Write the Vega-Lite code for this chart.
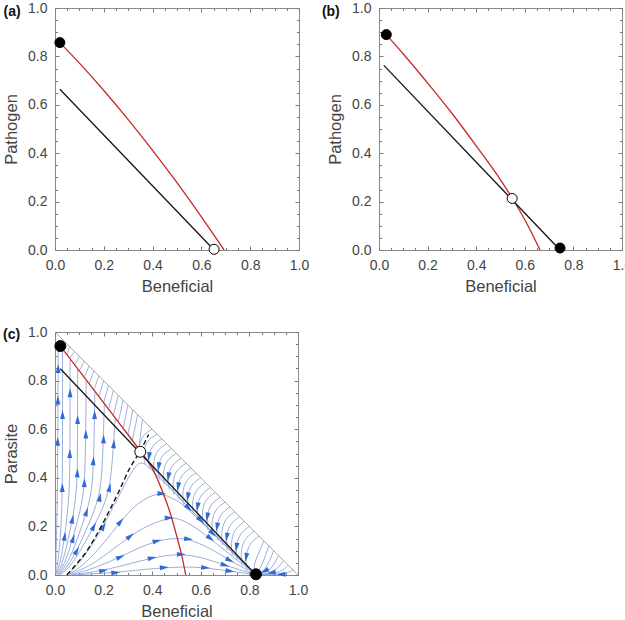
{
  "$schema": "https://vega.github.io/schema/vega-lite/v6.json",
  "padding": {"left": 2, "top": 0, "right": 0, "bottom": 0},
  "background": "white",
  "config": {
    "font": "Liberation Sans",
    "view": {"stroke": "#8a8a8a", "strokeWidth": 1},
    "axis": {"grid": false, "domain": false, "labelFont": "Liberation Sans", "labelFontSize": 14, "labelColor": "#444444", "titleFont": "Liberation Sans", "titleFontSize": 16.5, "titleFontWeight": "normal", "titleColor": "#444444", "tickColor": "#7a7a7a", "tickWidth": 1, "labelFlush": false, "labelOverlap": false}
  },
  "datasets": {
    "streams": [
      {"g":"L1","i":0,"x":0.002,"y":0.005},{"g":"L1","i":1,"x":0.005,"y":0.1},{"g":"L1","i":2,"x":0.01,"y":0.32},{"g":"L1","i":3,"x":0.012,"y":0.6},{"g":"L1","i":4,"x":0.013,"y":0.93},
      {"g":"L2","i":0,"x":0.004,"y":0.004},{"g":"L2","i":1,"x":0.009,"y":0.03},{"g":"L2","i":2,"x":0.017,"y":0.1},{"g":"L2","i":3,"x":0.025,"y":0.2},{"g":"L2","i":4,"x":0.03,"y":0.32},{"g":"L2","i":5,"x":0.031,"y":0.6},{"g":"L2","i":6,"x":0.031,"y":0.92},
      {"g":"L3","i":0,"x":0.006,"y":0.003},{"g":"L3","i":1,"x":0.016,"y":0.03},{"g":"L3","i":2,"x":0.031,"y":0.1},{"g":"L3","i":3,"x":0.045,"y":0.2},{"g":"L3","i":4,"x":0.058,"y":0.32},{"g":"L3","i":5,"x":0.061,"y":0.45},{"g":"L3","i":6,"x":0.062,"y":0.6},{"g":"L3","i":7,"x":0.062,"y":0.885},
      {"g":"L4","i":0,"x":0.009,"y":0.003},{"g":"L4","i":1,"x":0.024,"y":0.03},{"g":"L4","i":2,"x":0.044,"y":0.1},{"g":"L4","i":3,"x":0.066,"y":0.2},{"g":"L4","i":4,"x":0.088,"y":0.32},{"g":"L4","i":5,"x":0.092,"y":0.45},{"g":"L4","i":6,"x":0.093,"y":0.6},{"g":"L4","i":7,"x":0.093,"y":0.845},
      {"g":"L5","i":0,"x":0.012,"y":0.002},{"g":"L5","i":1,"x":0.032,"y":0.03},{"g":"L5","i":2,"x":0.058,"y":0.1},{"g":"L5","i":3,"x":0.087,"y":0.2},{"g":"L5","i":4,"x":0.118,"y":0.32},{"g":"L5","i":5,"x":0.124,"y":0.45},{"g":"L5","i":6,"x":0.127,"y":0.6},{"g":"L5","i":7,"x":0.128,"y":0.8},
      {"g":"L6","i":0,"x":0.015,"y":0.002},{"g":"L6","i":1,"x":0.04,"y":0.03},{"g":"L6","i":2,"x":0.075,"y":0.1},{"g":"L6","i":3,"x":0.11,"y":0.2},{"g":"L6","i":4,"x":0.15,"y":0.32},{"g":"L6","i":5,"x":0.158,"y":0.45},{"g":"L6","i":6,"x":0.162,"y":0.6},{"g":"L6","i":7,"x":0.164,"y":0.752},
      {"g":"L7","i":0,"x":0.018,"y":0.001},{"g":"L7","i":1,"x":0.05,"y":0.03},{"g":"L7","i":2,"x":0.09,"y":0.1},{"g":"L7","i":3,"x":0.135,"y":0.2},{"g":"L7","i":4,"x":0.185,"y":0.32},{"g":"L7","i":5,"x":0.195,"y":0.45},{"g":"L7","i":6,"x":0.2,"y":0.6},{"g":"L7","i":7,"x":0.203,"y":0.703},
      {"g":"L8","i":0,"x":0.022,"y":0.001},{"g":"L8","i":1,"x":0.06,"y":0.03},{"g":"L8","i":2,"x":0.105,"y":0.1},{"g":"L8","i":3,"x":0.16,"y":0.2},{"g":"L8","i":4,"x":0.22,"y":0.32},{"g":"L8","i":5,"x":0.235,"y":0.45},{"g":"L8","i":6,"x":0.245,"y":0.6},{"g":"L8","i":7,"x":0.248,"y":0.643},
      {"g":"R0","i":0,"x":0.36,"y":0.49},{"g":"R0","i":1,"x":0.45,"y":0.388},{"g":"R0","i":2,"x":0.55,"y":0.278},{"g":"R0","i":3,"x":0.65,"y":0.172},{"g":"R0","i":4,"x":0.75,"y":0.07},{"g":"R0","i":5,"x":0.825,"y":0.006},
      {"g":"R1","i":0,"x":0.055,"y":0.003},{"g":"R1","i":1,"x":0.11,"y":0.06},{"g":"R1","i":2,"x":0.17,"y":0.15},{"g":"R1","i":3,"x":0.23,"y":0.26},{"g":"R1","i":4,"x":0.29,"y":0.38},{"g":"R1","i":5,"x":0.33,"y":0.45},{"g":"R1","i":6,"x":0.36,"y":0.47},{"g":"R1","i":7,"x":0.4,"y":0.43},{"g":"R1","i":8,"x":0.5,"y":0.33},{"g":"R1","i":9,"x":0.6,"y":0.225},{"g":"R1","i":10,"x":0.7,"y":0.125},{"g":"R1","i":11,"x":0.8,"y":0.025},{"g":"R1","i":12,"x":0.825,"y":0.004},
      {"g":"R2","i":0,"x":0.058,"y":0.002},{"g":"R2","i":1,"x":0.13,"y":0.05},{"g":"R2","i":2,"x":0.2,"y":0.13},{"g":"R2","i":3,"x":0.27,"y":0.22},{"g":"R2","i":4,"x":0.33,"y":0.29},{"g":"R2","i":5,"x":0.4,"y":0.33},{"g":"R2","i":6,"x":0.44,"y":0.335},{"g":"R2","i":7,"x":0.5,"y":0.31},{"g":"R2","i":8,"x":0.55,"y":0.27},{"g":"R2","i":9,"x":0.65,"y":0.17},{"g":"R2","i":10,"x":0.75,"y":0.075},{"g":"R2","i":11,"x":0.82,"y":0.01},
      {"g":"R3","i":0,"x":0.062,"y":0.002},{"g":"R3","i":1,"x":0.15,"y":0.04},{"g":"R3","i":2,"x":0.23,"y":0.1},{"g":"R3","i":3,"x":0.31,"y":0.16},{"g":"R3","i":4,"x":0.38,"y":0.205},{"g":"R3","i":5,"x":0.47,"y":0.235},{"g":"R3","i":6,"x":0.5,"y":0.235},{"g":"R3","i":7,"x":0.56,"y":0.21},{"g":"R3","i":8,"x":0.64,"y":0.15},{"g":"R3","i":9,"x":0.73,"y":0.075},{"g":"R3","i":10,"x":0.82,"y":0.008},
      {"g":"R4","i":0,"x":0.068,"y":0.001},{"g":"R4","i":1,"x":0.17,"y":0.03},{"g":"R4","i":2,"x":0.27,"y":0.075},{"g":"R4","i":3,"x":0.36,"y":0.12},{"g":"R4","i":4,"x":0.44,"y":0.145},{"g":"R4","i":5,"x":0.5,"y":0.152},{"g":"R4","i":6,"x":0.55,"y":0.148},{"g":"R4","i":7,"x":0.63,"y":0.115},{"g":"R4","i":8,"x":0.72,"y":0.06},{"g":"R4","i":9,"x":0.82,"y":0.005},
      {"g":"R5","i":0,"x":0.075,"y":0.001},{"g":"R5","i":1,"x":0.2,"y":0.018},{"g":"R5","i":2,"x":0.3,"y":0.045},{"g":"R5","i":3,"x":0.4,"y":0.07},{"g":"R5","i":4,"x":0.47,"y":0.082},{"g":"R5","i":5,"x":0.52,"y":0.085},{"g":"R5","i":6,"x":0.6,"y":0.075},{"g":"R5","i":7,"x":0.7,"y":0.04},{"g":"R5","i":8,"x":0.82,"y":0.003},
      {"g":"R6","i":0,"x":0.09,"y":0.001},{"g":"R6","i":1,"x":0.25,"y":0.01},{"g":"R6","i":2,"x":0.38,"y":0.025},{"g":"R6","i":3,"x":0.53,"y":0.035},{"g":"R6","i":4,"x":0.62,"y":0.03},{"g":"R6","i":5,"x":0.72,"y":0.016},{"g":"R6","i":6,"x":0.82,"y":0.002},
      {"g":"U0","i":0,"x":0.06,"y":0.94},{"g":"U0","i":1,"x":0.055,"y":0.924},{"g":"U0","i":2,"x":0.05,"y":0.907},
      {"g":"U08","i":0,"x":0.08,"y":0.92},{"g":"U08","i":1,"x":0.071,"y":0.906},{"g":"U08","i":2,"x":0.06,"y":0.892},
      {"g":"U1","i":0,"x":0.1,"y":0.9},{"g":"U1","i":1,"x":0.093,"y":0.884},{"g":"U1","i":2,"x":0.082,"y":0.866},
      {"g":"U12","i":0,"x":0.12,"y":0.88},{"g":"U12","i":1,"x":0.111,"y":0.86},{"g":"U12","i":2,"x":0.1,"y":0.84},
      {"g":"U2","i":0,"x":0.14,"y":0.86},{"g":"U2","i":1,"x":0.131,"y":0.838},{"g":"U2","i":2,"x":0.12,"y":0.814},
      {"g":"U16","i":0,"x":0.16,"y":0.84},{"g":"U16","i":1,"x":0.151,"y":0.813},{"g":"U16","i":2,"x":0.14,"y":0.787},
      {"g":"U3","i":0,"x":0.18,"y":0.82},{"g":"U3","i":1,"x":0.171,"y":0.791},{"g":"U3","i":2,"x":0.16,"y":0.761},
      {"g":"U20","i":0,"x":0.2,"y":0.8},{"g":"U20","i":1,"x":0.191,"y":0.767},{"g":"U20","i":2,"x":0.18,"y":0.735},
      {"g":"U4","i":0,"x":0.22,"y":0.78},{"g":"U4","i":1,"x":0.211,"y":0.745},{"g":"U4","i":2,"x":0.2,"y":0.709},
      {"g":"U24","i":0,"x":0.24,"y":0.76},{"g":"U24","i":1,"x":0.231,"y":0.721},{"g":"U24","i":2,"x":0.22,"y":0.683},
      {"g":"U5","i":0,"x":0.26,"y":0.74},{"g":"U5","i":1,"x":0.251,"y":0.699},{"g":"U5","i":2,"x":0.24,"y":0.656},
      {"g":"U28","i":0,"x":0.28,"y":0.72},{"g":"U28","i":1,"x":0.271,"y":0.675},{"g":"U28","i":2,"x":0.26,"y":0.63},
      {"g":"U6","i":0,"x":0.3,"y":0.7},{"g":"U6","i":1,"x":0.291,"y":0.653},{"g":"U6","i":2,"x":0.28,"y":0.604},
      {"g":"U32","i":0,"x":0.32,"y":0.68},{"g":"U32","i":1,"x":0.311,"y":0.629},{"g":"U32","i":2,"x":0.3,"y":0.578},
      {"g":"U7","i":0,"x":0.34,"y":0.66},{"g":"U7","i":1,"x":0.33,"y":0.607},{"g":"U7","i":2,"x":0.318,"y":0.555},
      {"g":"U36","i":0,"x":0.36,"y":0.64},{"g":"U36","i":1,"x":0.352,"y":0.58},{"g":"U36","i":2,"x":0.345,"y":0.52},
      {"g":"A40","i":0,"x":0.4,"y":0.6},{"g":"A40","i":1,"x":0.368,"y":0.5816},{"g":"A40","i":2,"x":0.348,"y":0.5493},{"g":"A40","i":3,"x":0.345,"y":0.5078},
      {"g":"A42","i":0,"x":0.42,"y":0.58},{"g":"A42","i":1,"x":0.388,"y":0.5614},{"g":"A42","i":2,"x":0.368,"y":0.5288},{"g":"A42","i":3,"x":0.365,"y":0.4869},{"g":"A42","i":4,"x":0.37,"y":0.4569},
      {"g":"A44","i":0,"x":0.44,"y":0.56},{"g":"A44","i":1,"x":0.408,"y":0.5412},{"g":"A44","i":2,"x":0.388,"y":0.5082},{"g":"A44","i":3,"x":0.385,"y":0.4659},{"g":"A44","i":4,"x":0.39,"y":0.4359},
      {"g":"A46","i":0,"x":0.46,"y":0.54},{"g":"A46","i":1,"x":0.428,"y":0.521},{"g":"A46","i":2,"x":0.408,"y":0.4878},{"g":"A46","i":3,"x":0.405,"y":0.445},{"g":"A46","i":4,"x":0.41,"y":0.415},
      {"g":"A48","i":0,"x":0.48,"y":0.52},{"g":"A48","i":1,"x":0.448,"y":0.5008},{"g":"A48","i":2,"x":0.428,"y":0.4672},{"g":"A48","i":3,"x":0.425,"y":0.424},{"g":"A48","i":4,"x":0.43,"y":0.394},
      {"g":"A50","i":0,"x":0.5,"y":0.5},{"g":"A50","i":1,"x":0.468,"y":0.4806},{"g":"A50","i":2,"x":0.448,"y":0.4467},{"g":"A50","i":3,"x":0.445,"y":0.4031},{"g":"A50","i":4,"x":0.45,"y":0.3731},
      {"g":"A52","i":0,"x":0.52,"y":0.48},{"g":"A52","i":1,"x":0.488,"y":0.4604},{"g":"A52","i":2,"x":0.468,"y":0.4262},{"g":"A52","i":3,"x":0.465,"y":0.3822},{"g":"A52","i":4,"x":0.47,"y":0.3522},
      {"g":"A54","i":0,"x":0.54,"y":0.46},{"g":"A54","i":1,"x":0.508,"y":0.4402},{"g":"A54","i":2,"x":0.488,"y":0.4057},{"g":"A54","i":3,"x":0.485,"y":0.3612},{"g":"A54","i":4,"x":0.49,"y":0.3312},
      {"g":"A56","i":0,"x":0.56,"y":0.44},{"g":"A56","i":1,"x":0.528,"y":0.4201},{"g":"A56","i":2,"x":0.508,"y":0.3852},{"g":"A56","i":3,"x":0.505,"y":0.3403},{"g":"A56","i":4,"x":0.51,"y":0.3103},
      {"g":"A58","i":0,"x":0.58,"y":0.42},{"g":"A58","i":1,"x":0.548,"y":0.3999},{"g":"A58","i":2,"x":0.528,"y":0.3646},{"g":"A58","i":3,"x":0.525,"y":0.3193},{"g":"A58","i":4,"x":0.53,"y":0.2893},
      {"g":"A60","i":0,"x":0.6,"y":0.4},{"g":"A60","i":1,"x":0.568,"y":0.3797},{"g":"A60","i":2,"x":0.548,"y":0.3441},{"g":"A60","i":3,"x":0.545,"y":0.2984},{"g":"A60","i":4,"x":0.55,"y":0.2684},
      {"g":"A62","i":0,"x":0.62,"y":0.38},{"g":"A62","i":1,"x":0.588,"y":0.3595},{"g":"A62","i":2,"x":0.568,"y":0.3236},{"g":"A62","i":3,"x":0.565,"y":0.2775},{"g":"A62","i":4,"x":0.57,"y":0.2475},
      {"g":"A64","i":0,"x":0.64,"y":0.36},{"g":"A64","i":1,"x":0.608,"y":0.3393},{"g":"A64","i":2,"x":0.588,"y":0.3031},{"g":"A64","i":3,"x":0.585,"y":0.2565},{"g":"A64","i":4,"x":0.59,"y":0.2265},
      {"g":"A66","i":0,"x":0.66,"y":0.34},{"g":"A66","i":1,"x":0.628,"y":0.3191},{"g":"A66","i":2,"x":0.608,"y":0.2826},{"g":"A66","i":3,"x":0.605,"y":0.2356},{"g":"A66","i":4,"x":0.61,"y":0.2056},
      {"g":"A68","i":0,"x":0.68,"y":0.32},{"g":"A68","i":1,"x":0.648,"y":0.2989},{"g":"A68","i":2,"x":0.628,"y":0.262},{"g":"A68","i":3,"x":0.625,"y":0.2146},{"g":"A68","i":4,"x":0.63,"y":0.1846},
      {"g":"A70","i":0,"x":0.7,"y":0.3},{"g":"A70","i":1,"x":0.668,"y":0.2787},{"g":"A70","i":2,"x":0.648,"y":0.2415},{"g":"A70","i":3,"x":0.645,"y":0.1937},{"g":"A70","i":4,"x":0.65,"y":0.1637},
      {"g":"A72","i":0,"x":0.72,"y":0.28},{"g":"A72","i":1,"x":0.688,"y":0.2586},{"g":"A72","i":2,"x":0.668,"y":0.221},{"g":"A72","i":3,"x":0.665,"y":0.1728},{"g":"A72","i":4,"x":0.67,"y":0.1428},
      {"g":"A74","i":0,"x":0.74,"y":0.26},{"g":"A74","i":1,"x":0.708,"y":0.2384},{"g":"A74","i":2,"x":0.688,"y":0.2005},{"g":"A74","i":3,"x":0.685,"y":0.1518},{"g":"A74","i":4,"x":0.69,"y":0.1218},
      {"g":"A76","i":0,"x":0.76,"y":0.24},{"g":"A76","i":1,"x":0.728,"y":0.2182},{"g":"A76","i":2,"x":0.708,"y":0.18},{"g":"A76","i":3,"x":0.705,"y":0.1309},{"g":"A76","i":4,"x":0.71,"y":0.1009},
      {"g":"A78","i":0,"x":0.78,"y":0.22},{"g":"A78","i":1,"x":0.748,"y":0.198},{"g":"A78","i":2,"x":0.728,"y":0.1594},{"g":"A78","i":3,"x":0.725,"y":0.1099},{"g":"A78","i":4,"x":0.73,"y":0.0799},
      {"g":"A80","i":0,"x":0.8,"y":0.2},{"g":"A80","i":1,"x":0.768,"y":0.1778},{"g":"A80","i":2,"x":0.748,"y":0.139},{"g":"A80","i":3,"x":0.745,"y":0.089},{"g":"A80","i":4,"x":0.75,"y":0.059},
      {"g":"A82","i":0,"x":0.82,"y":0.18},{"g":"A82","i":1,"x":0.788,"y":0.1576},{"g":"A82","i":2,"x":0.768,"y":0.1185},{"g":"A82","i":3,"x":0.765,"y":0.0681},{"g":"A82","i":4,"x":0.77,"y":0.0381},
      {"g":"A84","i":0,"x":0.84,"y":0.16},{"g":"A84","i":1,"x":0.808,"y":0.1374},{"g":"A84","i":2,"x":0.788,"y":0.0979},{"g":"A84","i":3,"x":0.785,"y":0.0471},{"g":"A84","i":4,"x":0.79,"y":0.0171},
      {"g":"A86","i":0,"x":0.86,"y":0.14},{"g":"A86","i":1,"x":0.835,"y":0.085},{"g":"A86","i":2,"x":0.818,"y":0.04},{"g":"A86","i":3,"x":0.82,"y":0.01},
      {"g":"A88","i":0,"x":0.88,"y":0.12},{"g":"A88","i":1,"x":0.86,"y":0.06},{"g":"A88","i":2,"x":0.84,"y":0.02},{"g":"A88","i":3,"x":0.832,"y":0.004},
      {"g":"A90","i":0,"x":0.9,"y":0.1},{"g":"A90","i":1,"x":0.88,"y":0.05},{"g":"A90","i":2,"x":0.858,"y":0.015},{"g":"A90","i":3,"x":0.835,"y":0.003},
      {"g":"A92","i":0,"x":0.92,"y":0.08},{"g":"A92","i":1,"x":0.9,"y":0.04},{"g":"A92","i":2,"x":0.875,"y":0.012},{"g":"A92","i":3,"x":0.84,"y":0.002},
      {"g":"A94","i":0,"x":0.94,"y":0.06},{"g":"A94","i":1,"x":0.92,"y":0.03},{"g":"A94","i":2,"x":0.89,"y":0.009},{"g":"A94","i":3,"x":0.845,"y":0.002},
      {"g":"A96","i":0,"x":0.96,"y":0.04},{"g":"A96","i":1,"x":0.94,"y":0.02},{"g":"A96","i":2,"x":0.905,"y":0.006},{"g":"A96","i":3,"x":0.85,"y":0.001},
      {"g":"A98","i":0,"x":0.98,"y":0.02},{"g":"A98","i":1,"x":0.96,"y":0.01},{"g":"A98","i":2,"x":0.92,"y":0.003},{"g":"A98","i":3,"x":0.86,"y":0.001},
      {"g":"H","i":0,"x":0.0,"y":1.0},{"g":"H","i":1,"x":1.0,"y":0.0}
    ],
    "arrows": [
      {"x":0.011,"y":0.55,"a":0},{"x":0.012,"y":0.72,"a":0},{"x":0.013,"y":0.85,"a":0},
      {"x":0.03,"y":0.36,"a":0},{"x":0.031,"y":0.66,"a":0},
      {"x":0.04,"y":0.16,"a":9},{"x":0.061,"y":0.5,"a":1},{"x":0.062,"y":0.75,"a":0},
      {"x":0.072,"y":0.23,"a":13},{"x":0.092,"y":0.42,"a":2},{"x":0.093,"y":0.64,"a":0},
      {"x":0.075,"y":0.15,"a":18},{"x":0.121,"y":0.38,"a":3},{"x":0.127,"y":0.58,"a":0},
      {"x":0.13,"y":0.26,"a":18},{"x":0.158,"y":0.47,"a":4},{"x":0.163,"y":0.66,"a":0},
      {"x":0.09,"y":0.1,"a":30},{"x":0.185,"y":0.32,"a":12},{"x":0.2,"y":0.56,"a":2},
      {"x":0.16,"y":0.2,"a":28},{"x":0.225,"y":0.36,"a":14},{"x":0.242,"y":0.54,"a":4},
      {"x":0.2,"y":0.2,"a":29},{"x":0.55,"y":0.275,"a":136},
      {"x":0.27,"y":0.22,"a":39},{"x":0.44,"y":0.335,"a":92},{"x":0.65,"y":0.17,"a":134},
      {"x":0.31,"y":0.16,"a":51},{"x":0.47,"y":0.235,"a":88},{"x":0.64,"y":0.15,"a":128},
      {"x":0.27,"y":0.075,"a":65},{"x":0.42,"y":0.14,"a":74},{"x":0.55,"y":0.148,"a":95},{"x":0.72,"y":0.06,"a":118},
      {"x":0.2,"y":0.018,"a":80},{"x":0.4,"y":0.07,"a":78},{"x":0.52,"y":0.085,"a":90},{"x":0.7,"y":0.04,"a":107},
      {"x":0.25,"y":0.01,"a":85},{"x":0.45,"y":0.031,"a":86},{"x":0.62,"y":0.03,"a":94},{"x":0.72,"y":0.016,"a":98},
      {"x":0.6,"y":0.225,"a":134},
      {"x":0.93,"y":0.003,"a":270},
      {"x":0.3865,"y":0.487,"a":190},{"x":0.4265,"y":0.4456,"a":190},{"x":0.4665,"y":0.4042,"a":190},{"x":0.5065,"y":0.3628,"a":190},{"x":0.5465,"y":0.3213,"a":190},{"x":0.5865,"y":0.2798,"a":190},{"x":0.6265,"y":0.2383,"a":190},{"x":0.6665,"y":0.1969,"a":190},{"x":0.7065,"y":0.1555,"a":190},{"x":0.7465,"y":0.114,"a":190},{"x":0.7865,"y":0.0725,"a":190},
      {"x":0.862,"y":0.016,"a":245},{"x":0.89,"y":0.009,"a":260}
    ]
  },
  "concat": [
    {
      "width": 244, "height": 242,
      "layer": [
        {
          "data": {"values": [
            {"s":"red","i":0,"x":0.02,"y":0.857},{"s":"red","i":1,"x":0.1,"y":0.772},{"s":"red","i":2,"x":0.2,"y":0.659},{"s":"red","i":3,"x":0.3,"y":0.539},{"s":"red","i":4,"x":0.4,"y":0.412},{"s":"red","i":5,"x":0.5,"y":0.278},{"s":"red","i":6,"x":0.6,"y":0.137},{"s":"red","i":7,"x":0.693,"y":0.0},
            {"s":"black","i":0,"x":0.02,"y":0.664},{"s":"black","i":1,"x":0.652,"y":0.0}
          ]},
          "mark": {"type": "line", "strokeWidth": 1.3, "interpolate": "monotone"},
          "encoding": {
            "x": {"field": "x", "type": "quantitative", "scale": {"domain": [0, 1], "nice": false, "zero": false},
                  "axis": {"orient": "bottom", "title": "Beneficial", "values": [0,0.2,0.4,0.6,0.8,1], "format": ".1f", "tickSize": 4, "offset": -4, "labelPadding": 8, "titlePadding": 6}},
            "y": {"field": "y", "type": "quantitative", "scale": {"domain": [0, 1], "nice": false, "zero": false},
                  "axis": {"orient": "left", "title": "Pathogen", "values": [0,0.2,0.4,0.6,0.8,1], "format": ".1f", "tickSize": 4, "offset": -4, "labelPadding": 8, "titlePadding": 8}},
            "color": {"field": "s", "type": "nominal", "scale": {"domain": ["red", "black"], "range": ["#c62828", "#151515"]}, "legend": null},
            "order": {"field": "i", "type": "quantitative"}
          }
        },
        {
          "data": {"values": [{"x":0.5,"y":0.5}]},
          "mark": {"type": "point", "opacity": 0},
          "encoding": {
            "x": {"field": "x", "type": "quantitative", "axis": {"orient": "bottom", "title": null, "labels": false, "values": [0.05,0.1,0.15,0.25,0.3,0.35,0.45,0.5,0.55,0.65,0.7,0.75,0.85,0.9,0.95], "tickSize": 2.5, "offset": -2.5}},
            "y": {"field": "y", "type": "quantitative", "axis": {"orient": "left", "title": null, "labels": false, "values": [0.05,0.1,0.15,0.25,0.3,0.35,0.45,0.5,0.55,0.65,0.7,0.75,0.85,0.9,0.95], "tickSize": 2.5, "offset": -2.5}}
          }
        },
        {
          "data": {"values": [{"x":0.5,"y":0.5}]},
          "mark": {"type": "point", "opacity": 0},
          "encoding": {
            "x": {"field": "x", "type": "quantitative", "axis": {"orient": "top", "title": null, "labels": false, "values": [0.05,0.1,0.15,0.25,0.3,0.35,0.45,0.5,0.55,0.65,0.7,0.75,0.85,0.9,0.95], "tickSize": 2.5, "offset": -2.5}},
            "y": {"field": "y", "type": "quantitative", "axis": {"orient": "right", "title": null, "labels": false, "values": [0.05,0.1,0.15,0.25,0.3,0.35,0.45,0.5,0.55,0.65,0.7,0.75,0.85,0.9,0.95], "tickSize": 2.5, "offset": -2.5}}
          }
        },
        {
          "data": {"values": [{"f":"filled","x":0.02,"y":0.857},{"f":"open","x":0.652,"y":0.003}]},
          "mark": {"type": "point", "shape": "circle", "filled": true, "stroke": "#000000", "strokeWidth": 1, "size": 100, "opacity": 1},
          "encoding": {
            "x": {"field": "x", "type": "quantitative", "axis": {"orient": "top", "title": null, "labels": false, "values": [0,0.2,0.4,0.6,0.8,1], "tickSize": 4, "offset": -4}},
            "y": {"field": "y", "type": "quantitative", "axis": {"orient": "right", "title": null, "labels": false, "values": [0,0.2,0.4,0.6,0.8,1], "tickSize": 4, "offset": -4}},
            "fill": {"field": "f", "type": "nominal", "scale": {"domain": ["filled", "open"], "range": ["#000000", "#ffffff"]}, "legend": null}
          }
        },
        {
          "data": {"values": [{}]},
          "mark": {"type": "text", "text": "(a)", "align": "left", "baseline": "middle", "fontSize": 14, "fontWeight": "bold", "font": "Liberation Sans", "color": "#111111"},
          "encoding": {
            "x": {"datum": -0.211, "type": "quantitative", "axis": null},
            "y": {"datum": 0.983, "type": "quantitative", "axis": null}
          }
        }
      ],
      "resolve": {"axis": {"x": "independent", "y": "independent"}}
    },
    {
      "width": 243, "height": 242,
      "layer": [
        {
          "data": {"values": [
            {"s":"red","i":0,"x":0.03,"y":0.89},{"s":"red","i":1,"x":0.1,"y":0.81},{"s":"red","i":2,"x":0.2,"y":0.69},{"s":"red","i":3,"x":0.3,"y":0.565},{"s":"red","i":4,"x":0.4,"y":0.43},{"s":"red","i":5,"x":0.5,"y":0.29},{"s":"red","i":6,"x":0.548,"y":0.215},{"s":"red","i":7,"x":0.6,"y":0.125},{"s":"red","i":8,"x":0.663,"y":0.0},
            {"s":"black","i":0,"x":0.02,"y":0.763},{"s":"black","i":1,"x":0.745,"y":0.0}
          ]},
          "mark": {"type": "line", "strokeWidth": 1.3, "interpolate": "monotone"},
          "encoding": {
            "x": {"field": "x", "type": "quantitative", "scale": {"domain": [0, 1], "nice": false, "zero": false},
                  "axis": {"orient": "bottom", "title": "Beneficial", "values": [0,0.2,0.4,0.6,0.8,1], "format": ".1f", "tickSize": 4, "offset": -4, "labelPadding": 8, "titlePadding": 6}},
            "y": {"field": "y", "type": "quantitative", "scale": {"domain": [0, 1], "nice": false, "zero": false},
                  "axis": {"orient": "left", "title": "Pathogen", "values": [0,0.2,0.4,0.6,0.8,1], "format": ".1f", "tickSize": 4, "offset": -4, "labelPadding": 8, "titlePadding": 8}},
            "color": {"field": "s", "type": "nominal", "scale": {"domain": ["red", "black"], "range": ["#c62828", "#151515"]}, "legend": null},
            "order": {"field": "i", "type": "quantitative"}
          }
        },
        {
          "data": {"values": [{"x":0.5,"y":0.5}]},
          "mark": {"type": "point", "opacity": 0},
          "encoding": {
            "x": {"field": "x", "type": "quantitative", "axis": {"orient": "bottom", "title": null, "labels": false, "values": [0.05,0.1,0.15,0.25,0.3,0.35,0.45,0.5,0.55,0.65,0.7,0.75,0.85,0.9,0.95], "tickSize": 2.5, "offset": -2.5}},
            "y": {"field": "y", "type": "quantitative", "axis": {"orient": "left", "title": null, "labels": false, "values": [0.05,0.1,0.15,0.25,0.3,0.35,0.45,0.5,0.55,0.65,0.7,0.75,0.85,0.9,0.95], "tickSize": 2.5, "offset": -2.5}}
          }
        },
        {
          "data": {"values": [{"x":0.5,"y":0.5}]},
          "mark": {"type": "point", "opacity": 0},
          "encoding": {
            "x": {"field": "x", "type": "quantitative", "axis": {"orient": "top", "title": null, "labels": false, "values": [0.05,0.1,0.15,0.25,0.3,0.35,0.45,0.5,0.55,0.65,0.7,0.75,0.85,0.9,0.95], "tickSize": 2.5, "offset": -2.5}},
            "y": {"field": "y", "type": "quantitative", "axis": {"orient": "right", "title": null, "labels": false, "values": [0.05,0.1,0.15,0.25,0.3,0.35,0.45,0.5,0.55,0.65,0.7,0.75,0.85,0.9,0.95], "tickSize": 2.5, "offset": -2.5}}
          }
        },
        {
          "data": {"values": [{"f":"filled","x":0.03,"y":0.89},{"f":"open","x":0.548,"y":0.213},{"f":"filled","x":0.745,"y":0.008}]},
          "mark": {"type": "point", "shape": "circle", "filled": true, "stroke": "#000000", "strokeWidth": 1, "size": 100, "opacity": 1},
          "encoding": {
            "x": {"field": "x", "type": "quantitative", "axis": {"orient": "top", "title": null, "labels": false, "values": [0,0.2,0.4,0.6,0.8,1], "tickSize": 4, "offset": -4}},
            "y": {"field": "y", "type": "quantitative", "axis": {"orient": "right", "title": null, "labels": false, "values": [0,0.2,0.4,0.6,0.8,1], "tickSize": 4, "offset": -4}},
            "fill": {"field": "f", "type": "nominal", "scale": {"domain": ["filled", "open"], "range": ["#000000", "#ffffff"]}, "legend": null}
          }
        },
        {
          "data": {"values": [{}]},
          "mark": {"type": "text", "text": "(b)", "align": "left", "baseline": "middle", "fontSize": 14, "fontWeight": "bold", "font": "Liberation Sans", "color": "#111111"},
          "encoding": {
            "x": {"datum": -0.235, "type": "quantitative", "axis": null},
            "y": {"datum": 0.983, "type": "quantitative", "axis": null}
          }
        }
      ],
      "resolve": {"axis": {"x": "independent", "y": "independent"}}
    },
    {
      "width": 243, "height": 243,
      "layer": [
        {
          "data": {"name": "streams"},
          "mark": {"type": "line", "strokeWidth": 0.9, "color": "#8ea5d6", "interpolate": "basis"},
          "encoding": {
            "x": {"field": "x", "type": "quantitative", "scale": {"domain": [0, 1], "nice": false, "zero": false},
                  "axis": {"orient": "bottom", "title": "Beneficial", "values": [0,0.2,0.4,0.6,0.8,1], "format": ".1f", "tickSize": 4, "offset": -4, "labelPadding": 8, "titlePadding": 6}},
            "y": {"field": "y", "type": "quantitative", "scale": {"domain": [0, 1], "nice": false, "zero": false},
                  "axis": {"orient": "left", "title": "Parasite", "values": [0,0.2,0.4,0.6,0.8,1], "format": ".1f", "tickSize": 4, "offset": -4, "labelPadding": 8, "titlePadding": 8}},
            "detail": {"field": "g", "type": "nominal"},
            "order": {"field": "i", "type": "quantitative"}
          }
        },
        {
          "data": {"name": "arrows"},
          "mark": {"type": "point", "shape": "M0,-1L0.55,1L-0.55,1Z", "filled": true, "color": "#2f6ad8", "size": 80, "opacity": 1},
          "encoding": {
            "x": {"field": "x", "type": "quantitative", "axis": {"orient": "bottom", "title": null, "labels": false, "values": [0.05,0.1,0.15,0.25,0.3,0.35,0.45,0.5,0.55,0.65,0.7,0.75,0.85,0.9,0.95], "tickSize": 2.5, "offset": -2.5}},
            "y": {"field": "y", "type": "quantitative", "axis": {"orient": "left", "title": null, "labels": false, "values": [0.05,0.1,0.15,0.25,0.3,0.35,0.45,0.5,0.55,0.65,0.7,0.75,0.85,0.9,0.95], "tickSize": 2.5, "offset": -2.5}},
            "angle": {"field": "a", "type": "quantitative", "scale": null}
          }
        },
        {
          "data": {"values": [
            {"i":0,"x":0.049,"y":0.0},{"i":1,"x":0.09,"y":0.047},{"i":2,"x":0.125,"y":0.09},{"i":3,"x":0.166,"y":0.156},{"i":4,"x":0.207,"y":0.232},{"i":5,"x":0.262,"y":0.342},{"i":6,"x":0.31,"y":0.444},{"i":7,"x":0.351,"y":0.51},{"i":8,"x":0.385,"y":0.578}
          ]},
          "mark": {"type": "line", "strokeWidth": 1.4, "color": "#151515", "strokeDash": [5, 3], "interpolate": "monotone"},
          "encoding": {
            "x": {"field": "x", "type": "quantitative", "axis": {"orient": "top", "title": null, "labels": false, "values": [0.05,0.1,0.15,0.25,0.3,0.35,0.45,0.5,0.55,0.65,0.7,0.75,0.85,0.9,0.95], "tickSize": 2.5, "offset": -2.5}},
            "y": {"field": "y", "type": "quantitative", "axis": {"orient": "right", "title": null, "labels": false, "values": [0.05,0.1,0.15,0.25,0.3,0.35,0.45,0.5,0.55,0.65,0.7,0.75,0.85,0.9,0.95], "tickSize": 2.5, "offset": -2.5}},
            "order": {"field": "i", "type": "quantitative"}
          }
        },
        {
          "data": {"values": [
            {"s":"red","i":0,"x":0.022,"y":0.942},{"s":"red","i":1,"x":0.1,"y":0.84},{"s":"red","i":2,"x":0.18,"y":0.735},{"s":"red","i":3,"x":0.268,"y":0.62},{"s":"red","i":4,"x":0.351,"y":0.51},{"s":"red","i":5,"x":0.4,"y":0.44},{"s":"red","i":6,"x":0.44,"y":0.35},{"s":"red","i":7,"x":0.475,"y":0.252},{"s":"red","i":8,"x":0.502,"y":0.156},{"s":"red","i":9,"x":0.523,"y":0.074},{"s":"red","i":10,"x":0.538,"y":0.0},
            {"s":"black","i":0,"x":0.022,"y":0.849},{"s":"black","i":1,"x":0.827,"y":0.0}
          ]},
          "mark": {"type": "line", "strokeWidth": 1.3, "interpolate": "monotone"},
          "encoding": {
            "x": {"field": "x", "type": "quantitative", "axis": null},
            "y": {"field": "y", "type": "quantitative", "axis": null},
            "color": {"field": "s", "type": "nominal", "scale": {"domain": ["red", "black"], "range": ["#c62828", "#151515"]}, "legend": null},
            "order": {"field": "i", "type": "quantitative"}
          }
        },
        {
          "data": {"values": [{"f":"filled","x":0.022,"y":0.942},{"f":"open","x":0.351,"y":0.507},{"f":"filled","x":0.827,"y":0.003}]},
          "mark": {"type": "point", "shape": "circle", "filled": true, "stroke": "#000000", "strokeWidth": 1, "size": 120, "opacity": 1},
          "encoding": {
            "x": {"field": "x", "type": "quantitative", "axis": {"orient": "top", "title": null, "labels": false, "values": [0,0.2,0.4,0.6,0.8,1], "tickSize": 4, "offset": -4}},
            "y": {"field": "y", "type": "quantitative", "axis": {"orient": "right", "title": null, "labels": false, "values": [0,0.2,0.4,0.6,0.8,1], "tickSize": 4, "offset": -4}},
            "fill": {"field": "f", "type": "nominal", "scale": {"domain": ["filled", "open"], "range": ["#000000", "#ffffff"]}, "legend": null}
          }
        },
        {
          "data": {"values": [{}]},
          "mark": {"type": "text", "text": "(c)", "align": "left", "baseline": "middle", "fontSize": 14, "fontWeight": "bold", "font": "Liberation Sans", "color": "#111111"},
          "encoding": {
            "x": {"datum": -0.214, "type": "quantitative", "axis": null},
            "y": {"datum": 0.988, "type": "quantitative", "axis": null}
          }
        }
      ],
      "resolve": {"axis": {"x": "independent", "y": "independent"}}
    }
  ],
  "columns": 2,
  "spacing": {"row": 82, "column": 80},
  "bounds": "flush"
}
